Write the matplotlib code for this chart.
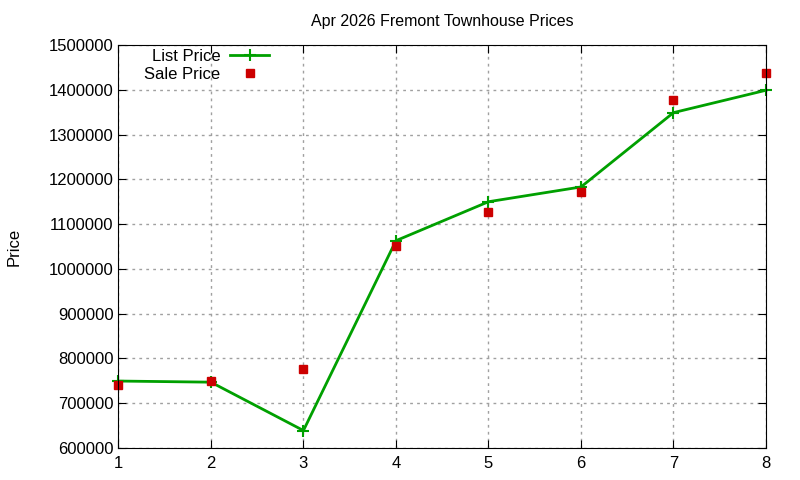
import matplotlib
matplotlib.use("Agg")
import matplotlib.pyplot as plt

plt.rcParams['font.family'] = ['Liberation Sans', 'DejaVu Sans']

months = [1, 2, 3, 4, 5, 6, 7, 8]
list_price = [749500, 747000, 639000, 1063000, 1150000, 1183000, 1349000, 1399000]
sale_price = [741000, 750000, 776000, 1052000, 1128000, 1172000, 1377000, 1437000]

fig = plt.figure(figsize=(8, 4.8), dpi=100)
ax = fig.add_axes([0.148, 0.0667, 0.8095, 0.8395])

ax.plot(months, list_price, color='#00a000', lw=2, marker='+', ms=9, mew=1.5,
        label='List Price', clip_on=False)
ax.plot(months, sale_price, ls='none', marker='s', color='#cc0000', ms=6,
        label='Sale Price', clip_on=False)

ax.set_xlim(1, 8)
ax.set_ylim(600000, 1500000)
ax.set_xticks(months)
ax.set_yticks(range(600000, 1500001, 100000))
ax.ticklabel_format(axis='y', style='plain', useOffset=False)
ax.tick_params(direction='in', top=True, right=True, labelsize=12, length=6)
ax.tick_params(axis='x', pad=6)
ax.grid(True, color='#a0a0a0', ls=(0, (2, 3)), lw=1)
ax.set_axisbelow(True)

ax.set_title('Apr 2026 Fremont Townhouse Prices', fontsize=11.5, pad=14)
fig.text(0.008, 0.485, 'Price', rotation=90, fontsize=12, va='center')

ax.legend(loc='upper left', bbox_to_anchor=(0.022, 1.02), frameon=False,
          markerfirst=False, fontsize=12, handlelength=2.3, labelspacing=0.2,
          handletextpad=0.6, borderaxespad=0.3)

fig.savefig('out.png', dpi=100)
